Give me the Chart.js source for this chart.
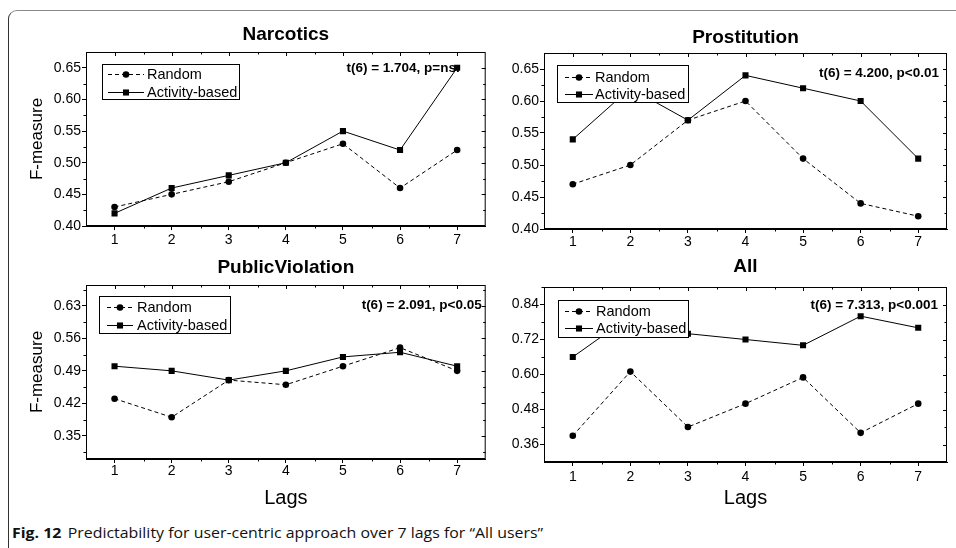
<!DOCTYPE html>
<html>
<head>
<meta charset="utf-8">
<script src="https://cdn.jsdelivr.net/npm/chart.js"></script>
<style>
  body { margin: 0; background: #fff; width: 956px; height: 548px; overflow: hidden; position: relative; }
  canvas { position: absolute; }
  #frame { position: absolute; left: 8px; top: 10px; width: 1000px; height: 600px;
           border-top: 1.5px solid #8a8a8a; border-left: 1.5px solid #333; border-top-left-radius: 9px; }
  #caption { position: absolute; left: 12px; top: 522px; font-family: "Open Sans", sans-serif; font-size: 15px;
             white-space: nowrap; transform-origin: 0 0; color: #111; }
  #caption b { font-weight: 700; margin-right: 6px; }
</style>
</head>
<body>
<div id="frame"></div>
<canvas id="narcotics" width="490" height="250" style="left:0;top:10px"></canvas>
<canvas id="prostitution" width="466" height="250" style="left:490px;top:10px"></canvas>
<canvas id="public" width="490" height="262" style="left:0;top:250px"></canvas>
<canvas id="all" width="466" height="262" style="left:490px;top:250px"></canvas>
<div id="caption"><b>Fig. 12</b>Predictability for user-centric approach over 7 lags for “All users”</div>

<script>
// Data
var lags = ['1', '2', '3', '4', '5', '6', '7'];

var narcoticsRandom   = [0.43, 0.45, 0.47, 0.50, 0.53, 0.46, 0.52];
var narcoticsActivity = [0.42, 0.46, 0.48, 0.50, 0.55, 0.52, 0.65];

var prostitutionRandom   = [0.47, 0.50, 0.57, 0.60, 0.51, 0.44, 0.42];
var prostitutionActivity = [0.54, 0.62, 0.57, 0.64, 0.62, 0.60, 0.51];

var publicRandom   = [0.43, 0.39, 0.47, 0.46, 0.50, 0.54, 0.49];
var publicActivity = [0.50, 0.49, 0.47, 0.49, 0.52, 0.53, 0.50];

var allRandom   = [0.39, 0.61, 0.42, 0.50, 0.59, 0.40, 0.50];
var allActivity = [0.66, 0.80, 0.74, 0.72, 0.70, 0.80, 0.76];

// Tick labels
var ticks05 = [0.40, 0.45, 0.50, 0.55, 0.60, 0.65];
var ticks07 = [0.35, 0.42, 0.49, 0.56, 0.63];
var ticks12 = [0.36, 0.48, 0.60, 0.72, 0.84];

var FONT = '"Liberation Sans", Arial, sans-serif';

// Box, minor ticks, mirrored ticks, legend box and the t-test note
var framePlugin = {
    id: 'frame',
    beforeDatasetsDraw: function(chart, args, opts) {
        var ctx = chart.ctx, a = chart.chartArea;
        ctx.save();
        ctx.font = 'bold 13.5px ' + FONT;
        ctx.fillStyle = '#000';
        ctx.textAlign = 'right';
        ctx.textBaseline = 'middle';
        ctx.fillText(opts.note, a.right - opts.noteAt[0], a.top + opts.noteAt[1]);
        ctx.restore();
    },
    afterDatasetsDraw: function(chart, args, opts) {
        var ctx = chart.ctx, a = chart.chartArea;
        var xs = chart.scales.x, ys = chart.scales.y;
        ctx.save();
        ctx.strokeStyle = '#000';
        ctx.lineWidth = 1;
        ctx.strokeRect(a.left + 0.5, a.top + 0.5, a.right - a.left - 1, a.bottom - a.top - 1);

        function seg(x1, y1, x2, y2) {
            ctx.beginPath(); ctx.moveTo(x1, y1); ctx.lineTo(x2, y2); ctx.stroke();
        }
        // x ticks
        var step = xs.getPixelForValue(1) - xs.getPixelForValue(0);
        for (var i = 0; i < lags.length; i++) {
            var px = Math.round(xs.getPixelForValue(i)) + 0.5;
            seg(px, a.top, px, a.top + 4);
            if (i < lags.length - 1) {
                var mx = Math.round(px + step / 2) + 0.5;
                seg(mx, a.top, mx, a.top + 2.5);
                seg(mx, a.bottom, mx, a.bottom + 2.5);
            }
        }
        // y ticks
        var yt = ys.ticks.map(function(t) { return t.value; });
        var ystep = yt[1] - yt[0];
        var minors = [yt[0] - ystep / 2];
        yt.forEach(function(v) { minors.push(v + ystep / 2); });
        yt.forEach(function(v) {
            var py = Math.round(ys.getPixelForValue(v)) + 0.5;
            seg(a.right, py, a.right - 4, py);
        });
        minors.forEach(function(v) {
            if (v <= ys.min || v >= ys.max) return;
            var py = Math.round(ys.getPixelForValue(v)) + 0.5;
            seg(a.left, py, a.left - 2.5, py);
            seg(a.right, py, a.right - 2.5, py);
        });

        // legend
        var L = opts.legend;
        var bx = a.left + L.box[0], by = a.top + L.box[1];
        ctx.fillStyle = '#fff';
        ctx.fillRect(bx, by, L.box[2], L.box[3]);
        ctx.strokeRect(bx + 0.5, by + 0.5, L.box[2], L.box[3]);
        ctx.font = '14.5px ' + FONT;
        ctx.textAlign = 'left';
        ctx.textBaseline = 'middle';
        chart.data.datasets.forEach(function(ds, k) {
            var y = a.top + L.rows[k];
            var x0 = a.left + L.sample[0], x1 = a.left + L.sample[1];
            ctx.setLineDash(ds.borderDash || []);
            seg(x0, Math.round(y) + 0.5, x1, Math.round(y) + 0.5);
            ctx.setLineDash([]);
            ctx.fillStyle = '#000';
            var cx = (x0 + x1) / 2;
            if (ds.pointStyle === 'circle') {
                ctx.beginPath(); ctx.arc(cx, y + 0.5, ds.pointRadius, 0, Math.PI * 2); ctx.fill();
            } else {
                var s = ds.pointRadius * Math.SQRT1_2;
                ctx.fillRect(cx - s, y + 0.5 - s, 2 * s, 2 * s);
            }
            ctx.fillText(ds.label, a.left + L.text, y + 1);
        });
        ctx.restore();
    }
};
Chart.register(framePlugin);

function makeChart(id, p) {
    var ctx = document.getElementById(id).getContext('2d');
    return new Chart(ctx, {
        type: 'line',
        data: {
            labels: lags,
            datasets: [{
                label: 'Random',
                data: p.random,
                borderColor: '#000',
                backgroundColor: '#000',
                borderWidth: 1,
                borderDash: [4, 3],
                pointStyle: 'circle',
                pointRadius: 3.3,
                pointBorderWidth: 0
            }, {
                label: 'Activity-based',
                data: p.activity,
                borderColor: '#000',
                backgroundColor: '#000',
                borderWidth: 1,
                pointStyle: 'rect',
                pointRadius: 4.3,
                pointBorderWidth: 0
            }]
        },
        options: {
            responsive: false,
            animation: false,
            layout: { padding: { left: 0, right: p.padRight, top: 0, bottom: 0 } },
            plugins: {
                legend: { display: false },
                tooltip: { enabled: false },
                title: {
                    display: true, text: p.title, fullSize: false, color: '#000',
                    font: { size: 19, weight: 'bold', family: FONT },
                    padding: p.titlePad
                },
                frame: { note: p.note, noteAt: p.noteAt, legend: p.legend }
            },
            scales: {
                x: {
                    offset: true,
                    grid: { display: true, drawOnChartArea: false, offset: false, tickLength: 4, color: '#000' },
                    border: { color: '#000' },
                    ticks: { color: '#000', font: { size: 14, family: FONT }, padding: p.xPad, maxRotation: 0 },
                    title: {
                        display: p.lagsTitle, text: 'Lags', color: '#000',
                        font: { size: 20, family: FONT }, padding: { top: 0, bottom: 2 }
                    },
                    afterFit: function(s) { s.height = p.xHeight; }
                },
                y: {
                    min: p.min,
                    max: p.max,
                    afterBuildTicks: function(s) { s.ticks = p.ticks.map(function(v) { return { value: v }; }); },
                    grid: { display: true, drawOnChartArea: false, tickLength: 4, color: '#000' },
                    border: { color: '#000' },
                    ticks: {
                        color: '#000', font: { size: 14, family: FONT }, padding: 1,
                        callback: function(v) { return v.toFixed(2); }
                    },
                    title: {
                        display: p.yTitle, text: 'F-measure', color: '#000',
                        font: { size: 17, family: FONT }, padding: { top: 27, bottom: 0 }
                    },
                    afterFit: function(s) { s.width = p.yWidth; }
                }
            }
        }
    });
}

window.addEventListener('load', function() {
    makeChart('narcotics', {
        title: 'Narcotics', random: narcoticsRandom, activity: narcoticsActivity,
        min: 0.40, max: 0.675, ticks: ticks05,
        note: 't(6) = 1.704, p=ns.', noteAt: [26, 16],
        legend: { box: [16, 12, 137, 35], rows: [22, 40], sample: [22, 58], text: 61 },
        titlePad: { top: 13.4, bottom: 5.8 }, padRight: 2, yWidth: 86, xHeight: 34, xPad: 1.6,
        yTitle: true, lagsTitle: false
    });
    makeChart('prostitution', {
        title: 'Prostitution', random: prostitutionRandom, activity: prostitutionActivity,
        min: 0.40, max: 0.675, ticks: ticks05,
        note: 't(6) = 4.200, p<0.01', noteAt: [8, 20],
        legend: { box: [13, 12, 131, 37], rows: [24, 41], sample: [21, 49], text: 51 },
        titlePad: { top: 16.3, bottom: 3.9 }, padRight: 9, yWidth: 54, xHeight: 31, xPad: 0.6,
        yTitle: false, lagsTitle: false
    });
    makeChart('public', {
        title: 'PublicViolation', random: publicRandom, activity: publicActivity,
        min: 0.30, max: 0.675, ticks: ticks07,
        note: 't(6) = 2.091, p<0.05', noteAt: [4, 20],
        legend: { box: [13, 11, 131, 37], rows: [22, 40], sample: [21, 47], text: 51 },
        titlePad: { top: 6.3, bottom: 5.9 }, padRight: 3, yWidth: 86, xHeight: 53, xPad: 0,
        yTitle: true, lagsTitle: true
    });
    makeChart('all', {
        title: 'All', random: allRandom, activity: allActivity,
        min: 0.30, max: 0.90, ticks: ticks12,
        note: 't(6) = 7.313, p<0.001', noteAt: [9, 18],
        legend: { box: [14, 13, 130, 37], rows: [24, 41], sample: [21, 49], text: 52 },
        titlePad: { top: 5.4, bottom: 8.8 }, padRight: 9, yWidth: 54, xHeight: 50, xPad: 2.6,
        yTitle: false, lagsTitle: true
    });

    // squeeze the caption to the width it has in the figure
    var cap = document.getElementById('caption');
    cap.style.transform = 'scaleX(' + (531 / cap.offsetWidth) + ')';
});
</script>
</body>
</html>
